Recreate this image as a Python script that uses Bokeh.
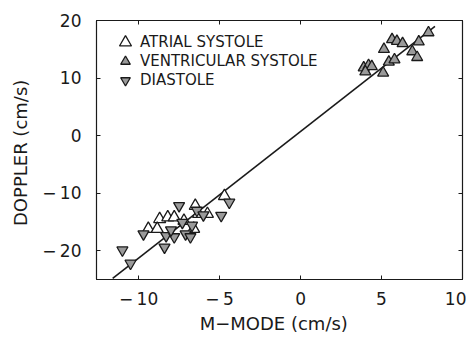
from bokeh.plotting import figure
from bokeh.models import LinearAxis, FixedTicker, Legend, LegendItem, Range1d
from bokeh.embed import file_html
from bokeh.resources import INLINE

# ---- data ----
atrial_x = [-8.7, -8.2, -7.8, -9.4, -8.85, -6.5, -6.3, -5.75, -4.7, -6.6, -7.2]
atrial_y = [-14.5, -14.2, -14.2, -16.2, -16.2, -12.2, -13.6, -13.6, -10.5, -16.2, -14.8]

vent_x = [3.9, 4.2, 4.4, 4.0, 5.1, 5.15, 5.65, 5.95, 6.3, 5.45, 5.8, 7.3, 6.9, 7.2, 7.9]
vent_y = [11.8, 12.2, 12.0, 11.1, 10.9, 15.0, 16.7, 16.4, 16.0, 12.8, 13.2, 16.3, 14.6, 13.6, 17.9]

dia_x = [-7.5, -4.4, -4.9, -9.7, -8.3, -7.8, -7.3, -6.7, -7.1, -6.8, -8.4, -11.0, -10.5, -6.4, -6.0, -8.0]
dia_y = [-12.2, -11.6, -13.9, -17.1, -17.4, -17.6, -15.1, -15.6, -17.1, -17.6, -19.4, -19.9, -22.2, -13.0, -13.8, -16.4]

fit_slope = 2.2
fit_intercept = 0.7
fit_x = [-11.6, 8.3]
fit_y = [fit_slope * v + fit_intercept for v in fit_x]

x_ticks = [-10, -5, 0, 5, 10]
x_tick_labels = ["\u2212\u200910", "\u2212\u20095", "0", "5", "10"]
y_ticks = [-20, -10, 0, 10, 20]
y_tick_labels = ["\u2212\u200920", "\u2212\u200910", "0", "10", "20"]

legend_labels = ["ATRIAL SYSTOLE", "VENTRICULAR SYSTOLE", "DIASTOLE"]

FONT = "DejaVu Sans"
INK = "#1a1a1a"
GRAY = "#9a9a9a"

W, H = 466, 338
BL, BR, BT, BB = 96, 4, 20, 59

p = figure(width=W, height=H, output_backend="svg", toolbar_location=None,
           x_range=Range1d(-12.6, 10.0), y_range=Range1d(-25, 20),
           min_border_left=BL, min_border_right=BR, min_border_top=BT, min_border_bottom=BB,
           x_axis_location=None, y_axis_location=None)
p.grid.visible = False
p.outline_line_color = INK
p.outline_line_width = 1.1
p.background_fill_color = "white"
p.border_fill_color = "white"

def style_axis(ax, ticks, labels, show_labels):
    ax.ticker = FixedTicker(ticks=ticks)
    ax.minor_tick_line_color = None
    ax.major_tick_in = 4
    ax.major_tick_out = 0
    ax.major_tick_line_color = INK
    ax.axis_line_color = INK
    ax.axis_line_width = 1.1
    ax.major_label_text_font = FONT
    ax.major_label_text_color = INK
    ax.axis_label_text_font = FONT
    ax.axis_label_text_color = INK
    ax.axis_label_text_font_style = "normal"
    if show_labels:
        ax.major_label_overrides = {t: l for t, l in zip(ticks, labels)}
        ax.major_label_text_font_size = "17px"
        ax.axis_label_text_font_size = "18px"
    else:
        ax.major_label_overrides = {t: "" for t in ticks}
        ax.major_label_text_font_size = "1px"
        ax.major_label_standoff = 0

xb = LinearAxis(axis_label="M\u2212MODE   (cm/s)")
style_axis(xb, x_ticks, x_tick_labels, True)
xb.major_label_standoff = 9
xb.axis_label_standoff = 1
p.add_layout(xb, "below")

yl = LinearAxis(axis_label="DOPPLER  (cm/s)")
style_axis(yl, y_ticks, y_tick_labels, True)
yl.major_label_standoff = 15
yl.axis_label_standoff = 8
p.add_layout(yl, "left")

xt = LinearAxis()
style_axis(xt, x_ticks, x_tick_labels, False)
p.add_layout(xt, "above")

yr = LinearAxis()
style_axis(yr, y_ticks, y_tick_labels, False)
p.add_layout(yr, "right")

p.line(fit_x, fit_y, line_color=INK, line_width=1.6)

r_a = p.scatter(atrial_x, atrial_y, marker="triangle", size=12,
                fill_color="white", line_color=INK, line_width=1.3)
r_v = p.scatter(vent_x, vent_y, marker="triangle", size=11,
                fill_color=GRAY, line_color=INK, line_width=1.3)
r_d = p.scatter(dia_x, dia_y, marker="inverted_triangle", size=11,
                fill_color=GRAY, line_color=INK, line_width=1.3)

# one legend box per entry so rows can sit closer than the glyph box
FRAME_H = H - BT - BB
MARK_X = 29
TEXT_X = 44
ROW_Y = [22, 41, 60]
GLYPH = [30, 24, 24]  # marker drawn at 0.4 * box
for lab, rend, ry, g in zip(legend_labels, [r_a, r_v, r_d], ROW_Y, GLYPH):
    lg = Legend(items=[LegendItem(label=lab, renderers=[rend])],
                location=(MARK_X - g / 2, FRAME_H - ry - g / 2),
                margin=0, padding=0, glyph_width=g, glyph_height=g,
                label_standoff=int(round(TEXT_X - MARK_X - g / 2)),
                label_text_font=FONT, label_text_font_size="15px", label_text_color=INK,
                border_line_alpha=0, background_fill_alpha=0)
    p.add_layout(lg, "center")

open("out.html", "w").write(file_html(p, INLINE))
